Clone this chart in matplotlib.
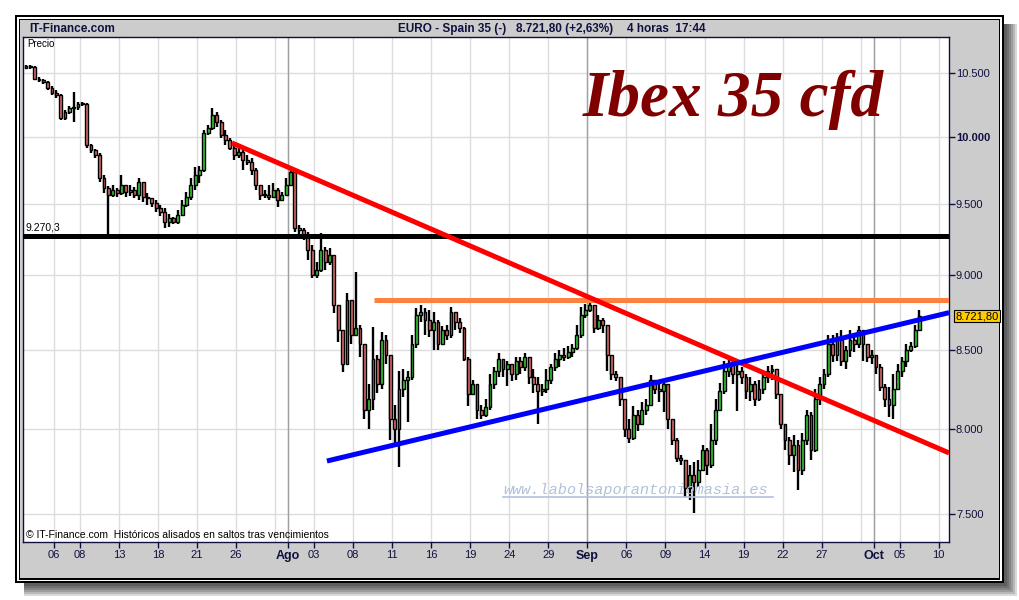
import matplotlib
matplotlib.use('Agg')
import matplotlib.pyplot as plt
from matplotlib.patches import Rectangle
from matplotlib.lines import Line2D
from matplotlib import ticker
import numpy as np

W, H = 1020, 600
FONT = 'Liberation Sans'
NAVY = '#101040'

# 4-hour candles, three per trading day, from 4 July to 10 October
first_open = 10540
closes = [
    10556, 10548, 10452, 10444, 10428, 10381, 10341, 10325, 10146, 10192,
    10224, 10231, 10255, 10255, 9939, 9901, 9863, 9692, 9618, 9567,
    9604, 9582, 9640, 9589, 9604, 9567, 9662, 9553, 9546, 9510,
    9474, 9445, 9373, 9402, 9373, 9423, 9495, 9553, 9640, 9714,
    9751, 10030, 10069, 10169, 10115, 10015, 9977, 9916, 9863, 9886,
    9826, 9811, 9751, 9640, 9567, 9567, 9553, 9604, 9531, 9567,
    9640, 9736, 9330, 9316, 9280, 9175, 9002, 9036, 9175, 9091,
    9140, 8799, 8633, 8406, 8832, 8600, 8646, 8535, 8122, 8185,
    8438, 8279, 8567, 8470, 8061, 8000, 8247, 8310, 8323, 8535,
    8732, 8752, 8699, 8633, 8686, 8535, 8633, 8600, 8752, 8686,
    8646, 8438, 8216, 8279, 8122, 8091, 8135, 8279, 8361, 8438,
    8374, 8406, 8342, 8425, 8387, 8451, 8323, 8279, 8235, 8247,
    8310, 8387, 8438, 8470, 8451, 8489, 8515, 8600, 8732, 8765,
    8799, 8646, 8699, 8666, 8470, 8342, 8323, 8185, 8000, 7947,
    8091, 8030, 8122, 8153, 8310, 8247, 8235, 8279, 8061, 7935,
    7827, 7815, 7650, 7726, 7684, 7755, 7875, 7785, 7935, 8122,
    8235, 8361, 8406, 8342, 8361, 8323, 8235, 8279, 8185, 8247,
    8323, 8361, 8374, 8216, 8030, 7935, 7845, 7905, 7755, 7935,
    8091, 7875, 8185, 8279, 8342, 8535, 8470, 8567, 8425, 8502,
    8567, 8535, 8633, 8535, 8451, 8470, 8387, 8260, 8185, 8153,
    8247, 8361, 8425, 8502, 8522, 8633, 8721.8,
]
highs = [
    10564, 10564, 10556, 10468, 10452, 10436, 10396, 10365, 10333, 10208,
    10239, 10349, 10271, 10271, 10263, 9947, 9909, 9878, 9714, 9633,
    9640, 9618, 9714, 9633, 9640, 9626, 9692, 9604, 9582, 9546,
    9531, 9495, 9474, 9430, 9409, 9459, 9531, 9589, 9692, 9774,
    9781, 10053, 10092, 10224, 10192, 10130, 10053, 9992, 9954, 9916,
    9901, 9863, 9841, 9766, 9640, 9604, 9640, 9655, 9618, 9589,
    9692, 9766, 9751, 9351, 9330, 9302, 9210, 9091, 9294, 9196,
    9189, 9140, 8799, 8633, 8880, 8799, 9022, 8666, 8535, 8279,
    8653, 8470, 8620, 8600, 8470, 8153, 8361, 8374, 8361, 8600,
    8779, 8799, 8779, 8765, 8752, 8699, 8659, 8666, 8785, 8732,
    8712, 8653, 8457, 8310, 8279, 8153, 8185, 8342, 8387, 8483,
    8438, 8425, 8406, 8457, 8451, 8483, 8451, 8374, 8323, 8279,
    8374, 8406, 8483, 8502, 8515, 8522, 8535, 8666, 8785, 8805,
    8832, 8799, 8732, 8712, 8666, 8387, 8361, 8323, 8153, 8061,
    8141, 8122, 8166, 8185, 8336, 8310, 8279, 8291, 8279, 8061,
    7947, 7845, 7815, 7785, 7803, 7815, 7905, 7887, 8030, 8185,
    8291, 8425, 8438, 8425, 8406, 8387, 8342, 8323, 8298, 8310,
    8355, 8393, 8400, 8374, 8216, 8030, 7953, 7966, 7935, 7978,
    8122, 8104, 8247, 8323, 8374, 8600, 8600, 8607, 8633, 8528,
    8633, 8600, 8659, 8620, 8535, 8502, 8470, 8406, 8279, 8260,
    8342, 8406, 8451, 8535, 8554, 8666, 8765,
]
lows = [
    10532, 10532, 10444, 10428, 10412, 10365, 10325, 10302, 10130, 10130,
    10177, 10115, 10208, 10239, 9916, 9878, 9841, 9662, 9582, 9280,
    9553, 9553, 9567, 9553, 9560, 9546, 9531, 9517, 9495, 9481,
    9445, 9416, 9330, 9337, 9358, 9358, 9416, 9481, 9531, 9604,
    9655, 9736, 10015, 10053, 10076, 9992, 9939, 9901, 9826, 9841,
    9751, 9789, 9714, 9604, 9531, 9546, 9531, 9546, 9481, 9531,
    9567, 9640, 9302, 9280, 9245, 9105, 8982, 8982, 9022, 9036,
    9071, 8745, 8554, 8355, 8406, 8535, 8600, 8457, 8061, 8000,
    8122, 8228, 8247, 8406, 7935, 7917, 7773, 8197, 8042, 8310,
    8515, 8686, 8600, 8587, 8502, 8502, 8554, 8567, 8580, 8633,
    8613, 8425, 8141, 8228, 8061, 8061, 8073, 8122, 8247, 8323,
    8329, 8266, 8298, 8310, 8342, 8361, 8279, 8228, 8030, 8203,
    8228, 8279, 8361, 8387, 8425, 8438, 8451, 8502, 8580, 8712,
    8752, 8613, 8633, 8613, 8361, 8310, 8298, 8141, 7953, 7917,
    7935, 7988, 8073, 8091, 8147, 8216, 8166, 8104, 8000, 7905,
    7803, 7785, 7597, 7580, 7505, 7655, 7755, 7726, 7767, 7905,
    8110, 8216, 8323, 8279, 8110, 8279, 8185, 8172, 8141, 8172,
    8216, 8291, 8310, 8185, 8000, 7875, 7785, 7743, 7638, 7726,
    7905, 7815, 7863, 8153, 8247, 8323, 8419, 8425, 8393, 8374,
    8457, 8489, 8515, 8425, 8419, 8406, 8342, 8235, 8135, 8073,
    8061, 8260, 8323, 8387, 8489, 8515, 8633,
]

# trend lines (trading-day index, price)
support_days = [20.98, 68.8]
support_prices = [7809, 8745]
resist_days = [13.68, 68.8]
resist_prices = [9954, 7857]
level_price = 9270.3
orange_days = [24.6, 68.8]
orange_price = 8832

y_ticks = [7500, 8000, 8500, 9000, 9500, 10000, 10500]
y_labels = ['7.500', '8.000', '8.500', '9.000', '9.500', '10.000', '10.500']
x_ticks = [0, 2, 5, 8, 11, 14, 18, 20, 23, 26, 29, 32, 35, 38, 41, 44, 47,
           50, 53, 56, 59, 63, 65, 68]
x_labels = ['06', '08', '13', '18', '21', '26', 'Ago', '03', '08', '11', '16',
            '19', '24', '29', 'Sep', '06', '09', '14', '19', '22', '27', 'Oct',
            '05', '10']
month_days = [18, 41, 63]
extra_grid_days = [17, 62]

plt.rcParams['font.family'] = [FONT, 'DejaVu Sans']

fig = plt.figure(figsize=(W / 100, H / 100), dpi=100)
fig.patch.set_facecolor('white')


def box(x0, y0, x1, y1, **kw):
    r = Rectangle((x0 / W, 1 - y1 / H), (x1 - x0) / W, (y1 - y0) / H,
                  transform=fig.transFigure, zorder=-10, **kw)
    fig.add_artist(r)


# soft drop shadow, then double black frame with grey panel
for k in range(13, 1, -2):
    box(24, 24, 1004 + k, 583 + k, fc='black', ec='none', alpha=0.15)
box(15, 15, 1004, 583, fc='black', ec='none')
box(17, 17, 1002, 581, fc='white', ec='none')
box(18.5, 18.5, 1000.5, 579.5, fc='black', ec='none')
box(20, 20, 999, 578, fc='#cccccc', ec='none')

ax = fig.add_axes([23 / W, 1 - 542 / H, 926 / W, 505 / H])
ax.set_facecolor('white')
for s in ax.spines.values():
    s.set_color(NAVY)
    s.set_linewidth(1)

ax.set_yscale('log')
ax.set_ylim(7341, 10792)
ax.set_xlim(-2.38, 68.79)

ax.yaxis.set_major_locator(ticker.FixedLocator(y_ticks))
ax.yaxis.set_minor_locator(ticker.NullLocator())
ax.yaxis.set_major_formatter(ticker.FixedFormatter(y_labels))
ax.yaxis.tick_right()
ax.tick_params(axis='y', direction='out', length=4, width=1, color=NAVY,
               labelcolor=NAVY, labelsize=8, pad=1)
for lbl in ax.get_yticklabels():
    if lbl.get_text() == '10.000':
        lbl.set_fontweight('bold')

ax.set_xticks(x_ticks)
ax.set_xticklabels(x_labels)
ax.tick_params(axis='x', direction='out', length=4, width=1, color=NAVY,
               labelcolor=NAVY, labelsize=8, pad=1.5)
for lbl in ax.get_xticklabels():
    if lbl.get_text() in ('Ago', 'Sep', 'Oct'):
        lbl.set_fontweight('bold')
        lbl.set_fontsize(9)

ax.grid(True, color='#dcdcdc', lw=1, zorder=0)
ax.set_axisbelow(True)
for d in extra_grid_days:
    ax.axvline(d, color='#dcdcdc', lw=1, zorder=0)
for d in month_days:
    ax.axvline(d, color='#a0a0a0', lw=1, zorder=1)

# candles
c = np.array(closes, dtype=float)
o = np.array([first_open] + closes[:-1], dtype=float)
hi = np.maximum(np.array(highs, dtype=float), np.maximum(o, c))
lo = np.minimum(np.array(lows, dtype=float), np.minimum(o, c))
x = np.arange(len(c)) / 3 - 2.15
up = c >= o
body_col = np.where(up, '#33cc33', '#e06a6a')
ax.vlines(x, lo, hi, color='black', lw=1.7, zorder=2)
bottom = np.minimum(o, c)
height = np.maximum(np.abs(c - o), 4)
ax.bar(x, height, bottom=bottom, width=0.22, color=body_col,
       edgecolor='black', linewidth=1.0, zorder=3)

# trend lines
ax.axhline(level_price, color='black', lw=3.6, zorder=4)
ax.plot(orange_days, [orange_price, orange_price], color='#ff8040', lw=3.6,
        zorder=4, solid_capstyle='butt')
ax.plot(resist_days, resist_prices, color='#ff0000', lw=3.6, zorder=4,
        solid_capstyle='butt')
ax.plot(support_days, support_prices, color='#0000ff', lw=3.6, zorder=4,
        solid_capstyle='butt')

ax.annotate('9.270,3', xy=(0.003, level_price),
            xycoords=ax.get_yaxis_transform(), xytext=(0, 2.5),
            textcoords='offset points', fontsize=7.5, va='bottom', ha='left')

ax.text(1.0065, c[-1], '8.721,80', transform=ax.get_yaxis_transform(),
        va='center', ha='left', fontsize=8, color='black', clip_on=False,
        bbox=dict(boxstyle='square,pad=0.12', fc='#ffcc00', ec='black', lw=0.8))

# header and annotations
fig.text(29 / W, 1 - 29 / H, 'IT-Finance.com', fontsize=8.5, weight='bold',
         va='center', color=NAVY)
fig.text(398 / W, 1 - 29 / H, 'EURO - Spain 35 (-)', fontsize=8.5,
         weight='bold', va='center', color=NAVY)
fig.text(516 / W, 1 - 29 / H, '8.721,80 (+2,63%)', fontsize=8.5,
         weight='bold', va='center', color=NAVY)
fig.text(627 / W, 1 - 29 / H, '4 horas  17:44', fontsize=8.5,
         weight='bold', va='center', color=NAVY)
fig.text(27 / W, 1 - 44 / H, 'Precio', fontsize=7, va='center', color='black')
fig.text(26 / W, 1 - 535 / H,
         '© IT-Finance.com  Históricos alisados en saltos tras vencimientos',
         fontsize=7.5, va='center', color='black')

fig.text(583 / W, 1 - 116 / H, 'Ibex 35 cfd', fontsize=47,
         family='Liberation Serif', weight='bold', style='italic',
         color='#800000', va='baseline')

fig.text(503 / W, 1 - 494 / H, 'www.labolsaporantoniomasia.es', fontsize=11,
         family='Liberation Mono', style='italic', color='#b0c2da',
         va='baseline')
fig.add_artist(Line2D([503 / W, 773 / W], [1 - 497 / H, 1 - 497 / H],
                      transform=fig.transFigure, color='#b0c2da', lw=1.2))

fig.savefig('out.png', dpi=100)
